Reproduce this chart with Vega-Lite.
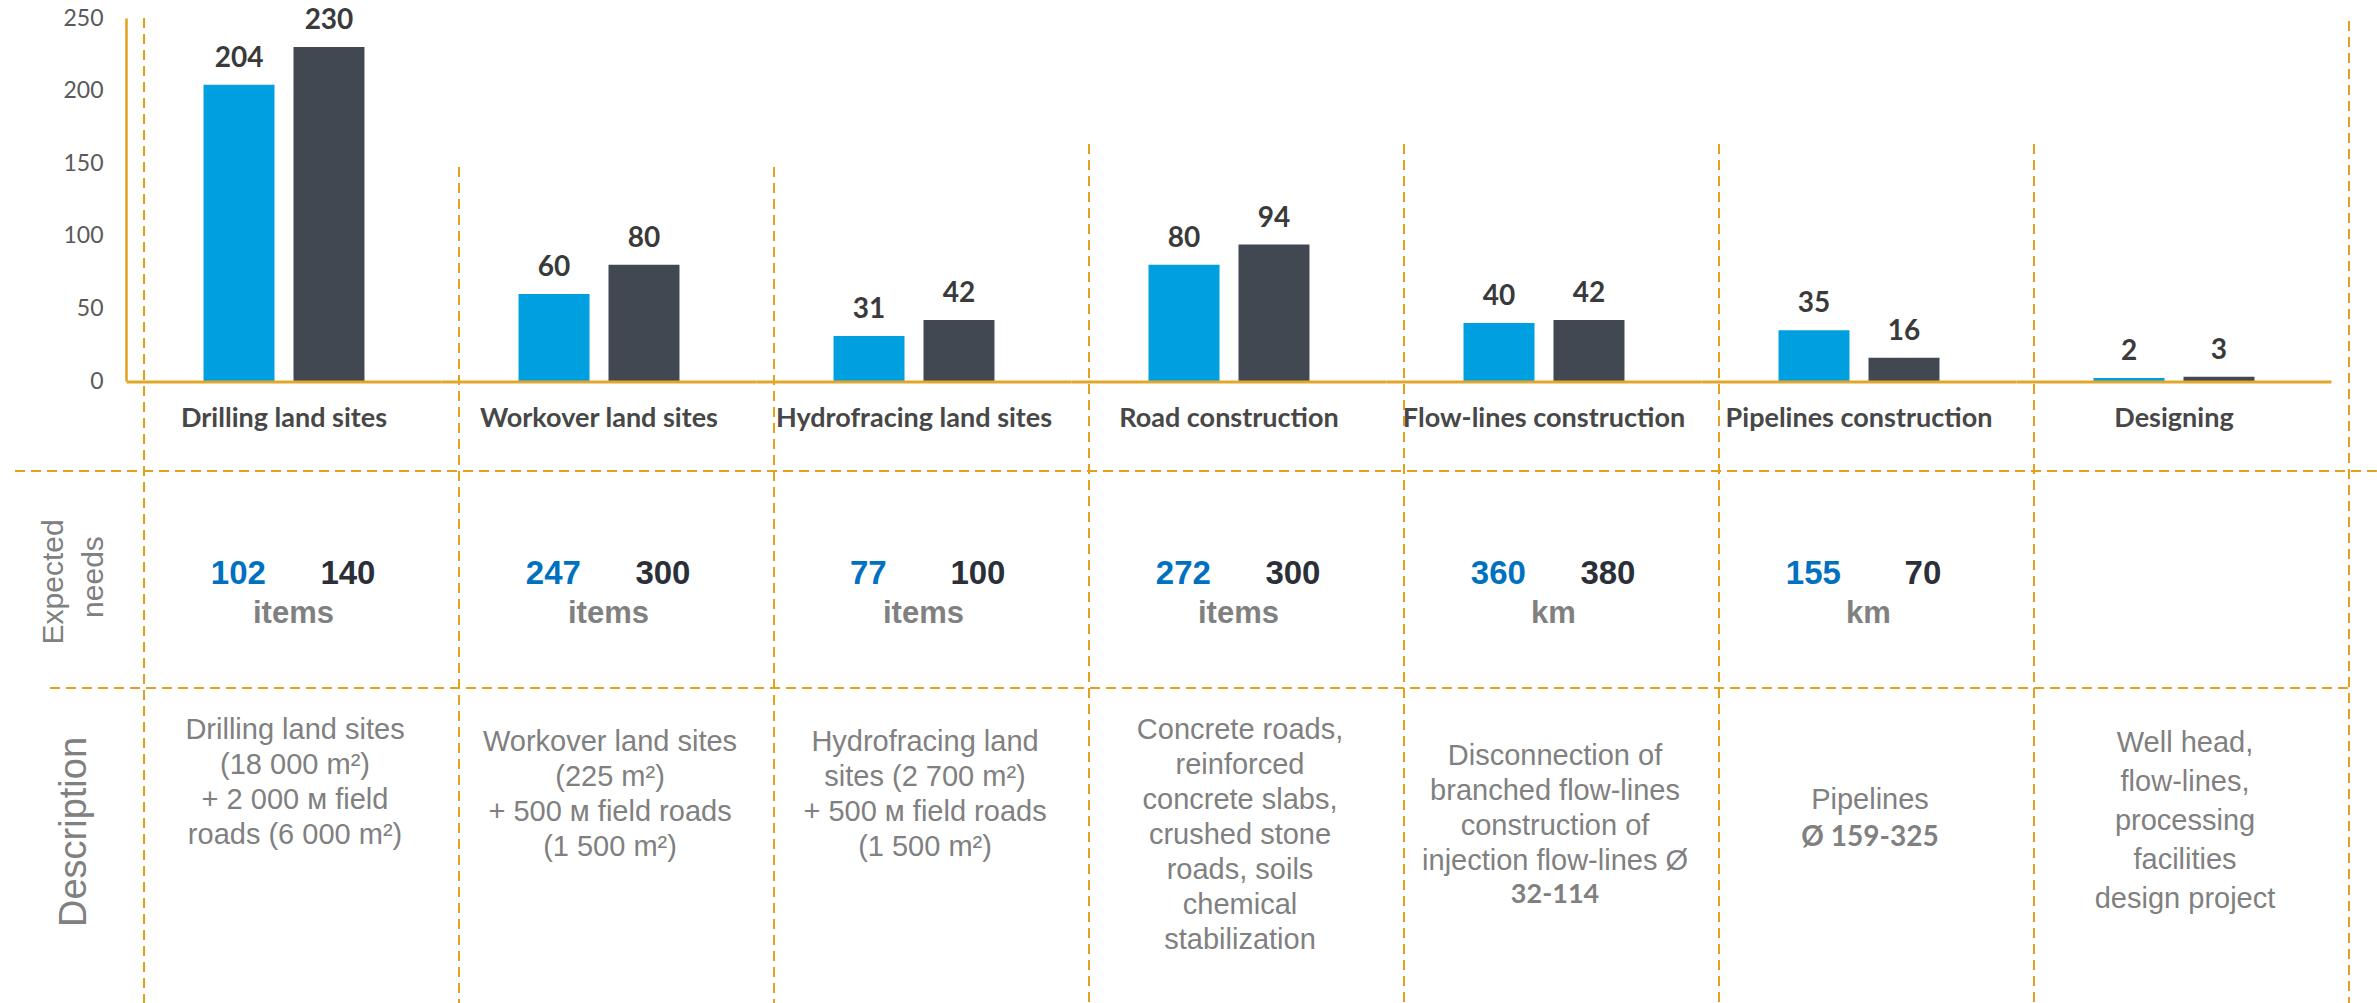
{
  "$schema": "https://vega.github.io/schema/vega-lite/v6.json",
  "width": 2251,
  "height": 1003,
  "padding": {"left": 126, "right": 0, "top": 0, "bottom": 0},
  "autosize": {"type": "none"},
  "background": "white",
  "config": {"view": {"stroke": null}},
  "datasets": {
    "bars": [
      {"category": "Drilling land sites", "series": "Series 1", "value": 204},
      {"category": "Drilling land sites", "series": "Series 2", "value": 230},
      {"category": "Workover land sites", "series": "Series 1", "value": 60},
      {"category": "Workover land sites", "series": "Series 2", "value": 80},
      {"category": "Hydrofracing land sites", "series": "Series 1", "value": 31},
      {"category": "Hydrofracing land sites", "series": "Series 2", "value": 42},
      {"category": "Road construction", "series": "Series 1", "value": 80},
      {"category": "Road construction", "series": "Series 2", "value": 94},
      {"category": "Flow-lines construction", "series": "Series 1", "value": 40},
      {"category": "Flow-lines construction", "series": "Series 2", "value": 42},
      {"category": "Pipelines construction", "series": "Series 1", "value": 35},
      {"category": "Pipelines construction", "series": "Series 2", "value": 16},
      {"category": "Designing", "series": "Series 1", "value": 2},
      {"category": "Designing", "series": "Series 2", "value": 3}
    ],
    "cells": [
      {"category": "Drilling land sites", "blue": "102", "dark": "140", "unit": "items",
       "desc": ["Drilling land sites", "(18 000 m²)", "+ 2 000 м field", "roads (6 000 m²)"], "descBold": null},
      {"category": "Workover land sites", "blue": "247", "dark": "300", "unit": "items",
       "desc": ["Workover land sites", "(225 m²)", "+ 500 м field roads", "(1 500 m²)"], "descBold": null},
      {"category": "Hydrofracing land sites", "blue": "77", "dark": "100", "unit": "items",
       "desc": ["Hydrofracing land", "sites (2 700 m²)", "+ 500 м field roads", "(1 500 m²)"], "descBold": null},
      {"category": "Road construction", "blue": "272", "dark": "300", "unit": "items",
       "desc": ["Concrete roads,", "reinforced", "concrete slabs,", "crushed stone", "roads, soils", "chemical", "stabilization"], "descBold": null},
      {"category": "Flow-lines construction", "blue": "360", "dark": "380", "unit": "km",
       "desc": ["Disconnection of", "branched flow-lines", "construction of", "injection flow-lines Ø"], "descBold": "32-114"},
      {"category": "Pipelines construction", "blue": "155", "dark": "70", "unit": "km",
       "desc": ["Pipelines"], "descBold": "Ø 159-325"},
      {"category": "Designing", "blue": null, "dark": null, "unit": null,
       "desc": ["Well head,", "flow-lines,", "processing", "facilities", "design project"], "descBold": null}
    ]
  },
  "layer": [
    {
      "data": {"name": "bars"},
      "mark": {"type": "bar"},
      "encoding": {
        "x": {"field": "category", "type": "nominal", "title": null, "axis": null,
              "scale": {"domain": ["Drilling land sites", "Workover land sites", "Hydrofracing land sites", "Road construction", "Flow-lines construction", "Pipelines construction", "Designing"], "range": [0.5, 2205.5], "paddingInner": 0, "paddingOuter": 0}},
        "xOffset": {"field": "series", "type": "nominal", "scale": {"domain": ["Series 1", "Series 2"], "paddingInner": 0.211, "paddingOuter": 0.856}},
        "y": {"field": "value", "type": "quantitative", "title": null,
              "scale": {"domain": [0, 250], "range": [381, 18], "nice": false, "zero": false},
              "axis": {"values": [0, 50, 100, 150, 200, 250], "domain": true, "domainColor": "#E3A11B", "domainWidth": 2.5, "ticks": false, "grid": false, "labels": true, "labelFont": "Lato", "labelFontSize": 23, "labelColor": "#595959", "labelPadding": 23, "title": null}},
        "color": {"field": "series", "type": "nominal", "legend": null, "scale": {"domain": ["Series 1", "Series 2"], "range": ["#009FDF", "#414852"]}}
      }
    },
    {
      "data": {"name": "cells"},
      "transform": [{"filter": {"field": "category", "oneOf": ["Drilling land sites"]}}],
      "mark": {"type": "rule", "color": "#E3A11B", "strokeWidth": 2, "strokeDash": [10, 6]},
      "encoding": {
        "x": {"field": "category", "type": "nominal", "bandPosition": 0.0556, "axis": null,
              "scale": {"domain": ["Drilling land sites", "Workover land sites", "Hydrofracing land sites", "Road construction", "Flow-lines construction", "Pipelines construction", "Designing"], "range": [0.5, 2205.5], "paddingInner": 0, "paddingOuter": 0}},
        "y": {"datum": 250, "type": "quantitative", "title": null, "scale": {"domain": [0, 250], "range": [381, 18], "nice": false, "zero": false}},
        "y2": {"datum": -430}
      }
    },
    {
      "data": {"name": "cells"},
      "transform": [{"filter": {"field": "category", "oneOf": ["Workover land sites", "Hydrofracing land sites"]}}],
      "mark": {"type": "rule", "color": "#E3A11B", "strokeWidth": 2, "strokeDash": [10, 6]},
      "encoding": {
        "x": {"field": "category", "type": "nominal", "bandPosition": 0.0556, "axis": null,
              "scale": {"domain": ["Drilling land sites", "Workover land sites", "Hydrofracing land sites", "Road construction", "Flow-lines construction", "Pipelines construction", "Designing"], "range": [0.5, 2205.5], "paddingInner": 0, "paddingOuter": 0}},
        "y": {"datum": 147.4, "type": "quantitative", "title": null, "scale": {"domain": [0, 250], "range": [381, 18], "nice": false, "zero": false}},
        "y2": {"datum": -430}
      }
    },
    {
      "data": {"name": "cells"},
      "transform": [{"filter": {"field": "category", "oneOf": ["Road construction", "Flow-lines construction", "Pipelines construction", "Designing"]}}],
      "mark": {"type": "rule", "color": "#E3A11B", "strokeWidth": 2, "strokeDash": [10, 6]},
      "encoding": {
        "x": {"field": "category", "type": "nominal", "bandPosition": 0.0556, "axis": null,
              "scale": {"domain": ["Drilling land sites", "Workover land sites", "Hydrofracing land sites", "Road construction", "Flow-lines construction", "Pipelines construction", "Designing"], "range": [0.5, 2205.5], "paddingInner": 0, "paddingOuter": 0}},
        "y": {"datum": 163.2, "type": "quantitative", "title": null, "scale": {"domain": [0, 250], "range": [381, 18], "nice": false, "zero": false}},
        "y2": {"datum": -430}
      }
    },
    {
      "data": {"name": "cells"},
      "transform": [{"filter": {"field": "category", "oneOf": ["Designing"]}}],
      "mark": {"type": "rule", "color": "#E3A11B", "strokeWidth": 2, "strokeDash": [10, 6]},
      "encoding": {
        "x": {"field": "category", "type": "nominal", "bandPosition": 1.0556, "axis": null,
              "scale": {"domain": ["Drilling land sites", "Workover land sites", "Hydrofracing land sites", "Road construction", "Flow-lines construction", "Pipelines construction", "Designing"], "range": [0.5, 2205.5], "paddingInner": 0, "paddingOuter": 0}},
        "y": {"datum": 248, "type": "quantitative", "title": null, "scale": {"domain": [0, 250], "range": [381, 18], "nice": false, "zero": false}},
        "y2": {"datum": -430}
      }
    },
    {
      "data": {"values": [{"line": "needs top"}]},
      "mark": {"type": "rule", "color": "#E3A11B", "strokeWidth": 2, "strokeDash": [10, 6]},
      "encoding": {
        "x": {"datum": "Drilling land sites", "type": "nominal", "bandPosition": -0.354, "axis": null,
              "scale": {"domain": ["Drilling land sites", "Workover land sites", "Hydrofracing land sites", "Road construction", "Flow-lines construction", "Pipelines construction", "Designing"], "range": [0.5, 2205.5], "paddingInner": 0, "paddingOuter": 0}},
        "x2": {"datum": "Designing", "bandPosition": 1.144},
        "y": {"datum": -62, "type": "quantitative", "title": null, "scale": {"domain": [0, 250], "range": [381, 18], "nice": false, "zero": false}}
      }
    },
    {
      "data": {"values": [{"line": "description top"}]},
      "mark": {"type": "rule", "color": "#E3A11B", "strokeWidth": 2, "strokeDash": [10, 6]},
      "encoding": {
        "x": {"datum": "Drilling land sites", "type": "nominal", "bandPosition": -0.243, "axis": null,
              "scale": {"domain": ["Drilling land sites", "Workover land sites", "Hydrofracing land sites", "Road construction", "Flow-lines construction", "Pipelines construction", "Designing"], "range": [0.5, 2205.5], "paddingInner": 0, "paddingOuter": 0}},
        "x2": {"datum": "Designing", "bandPosition": 1.0556},
        "y": {"datum": -211.4, "type": "quantitative", "title": null, "scale": {"domain": [0, 250], "range": [381, 18], "nice": false, "zero": false}}
      }
    },
    {
      "data": {"name": "cells"},
      "mark": {"type": "rect", "color": "#E2A62A"},
      "encoding": {
        "x": {"field": "category", "type": "nominal", "axis": null,
              "scale": {"domain": ["Drilling land sites", "Workover land sites", "Hydrofracing land sites", "Road construction", "Flow-lines construction", "Pipelines construction", "Designing"], "range": [0.5, 2205.5], "paddingInner": 0, "paddingOuter": 0}},
        "y": {"datum": 0.3, "type": "quantitative", "title": null, "scale": {"domain": [0, 250], "range": [381, 18], "nice": false, "zero": false}},
        "y2": {"datum": -1.8}
      }
    },
    {
      "data": {"name": "bars"},
      "mark": {"type": "text", "font": "Lato", "fontWeight": "bold", "fontSize": 28, "color": "#3A3A3A", "baseline": "alphabetic", "dy": -18},
      "encoding": {
        "x": {"field": "category", "type": "nominal", "axis": null,
              "scale": {"domain": ["Drilling land sites", "Workover land sites", "Hydrofracing land sites", "Road construction", "Flow-lines construction", "Pipelines construction", "Designing"], "range": [0.5, 2205.5], "paddingInner": 0, "paddingOuter": 0}},
        "xOffset": {"field": "series", "type": "nominal", "scale": {"domain": ["Series 1", "Series 2"], "paddingInner": 0.211, "paddingOuter": 0.856}},
        "y": {"field": "value", "type": "quantitative", "title": null, "scale": {"domain": [0, 250], "range": [381, 18], "nice": false, "zero": false}},
        "text": {"field": "value", "type": "quantitative"}
      }
    },
    {
      "data": {"name": "cells"},
      "mark": {"type": "text", "font": "Lato", "fontWeight": "bold", "fontSize": 27, "color": "#474747", "baseline": "middle"},
      "encoding": {
        "x": {"field": "category", "type": "nominal", "axis": null,
              "scale": {"domain": ["Drilling land sites", "Workover land sites", "Hydrofracing land sites", "Road construction", "Flow-lines construction", "Pipelines construction", "Designing"], "range": [0.5, 2205.5], "paddingInner": 0, "paddingOuter": 0}},
        "y": {"datum": -26.2, "type": "quantitative", "title": null, "scale": {"domain": [0, 250], "range": [381, 18], "nice": false, "zero": false}},
        "text": {"field": "category", "type": "nominal"}
      }
    },
    {
      "data": {"name": "cells"},
      "transform": [{"filter": "isValid(datum.blue)"}],
      "mark": {"type": "text", "font": "Liberation Sans", "fontWeight": "bold", "fontSize": 33, "color": "#0070C0", "baseline": "middle"},
      "encoding": {
        "x": {"field": "category", "type": "nominal", "bandPosition": 0.355, "axis": null,
              "scale": {"domain": ["Drilling land sites", "Workover land sites", "Hydrofracing land sites", "Road construction", "Flow-lines construction", "Pipelines construction", "Designing"], "range": [0.5, 2205.5], "paddingInner": 0, "paddingOuter": 0}},
        "y": {"datum": -132.9, "type": "quantitative", "title": null, "scale": {"domain": [0, 250], "range": [381, 18], "nice": false, "zero": false}},
        "text": {"field": "blue", "type": "nominal"}
      }
    },
    {
      "data": {"name": "cells"},
      "transform": [{"filter": "isValid(datum.dark)"}],
      "mark": {"type": "text", "font": "Liberation Sans", "fontWeight": "bold", "fontSize": 33, "color": "#2A2F38", "baseline": "middle"},
      "encoding": {
        "x": {"field": "category", "type": "nominal", "bandPosition": 0.703, "axis": null,
              "scale": {"domain": ["Drilling land sites", "Workover land sites", "Hydrofracing land sites", "Road construction", "Flow-lines construction", "Pipelines construction", "Designing"], "range": [0.5, 2205.5], "paddingInner": 0, "paddingOuter": 0}},
        "y": {"datum": -132.9, "type": "quantitative", "title": null, "scale": {"domain": [0, 250], "range": [381, 18], "nice": false, "zero": false}},
        "text": {"field": "dark", "type": "nominal"}
      }
    },
    {
      "data": {"name": "cells"},
      "transform": [{"filter": "isValid(datum.unit)"}],
      "mark": {"type": "text", "font": "Liberation Sans", "fontWeight": "bold", "fontSize": 31, "color": "#808080", "baseline": "middle"},
      "encoding": {
        "x": {"field": "category", "type": "nominal", "bandPosition": 0.53, "axis": null,
              "scale": {"domain": ["Drilling land sites", "Workover land sites", "Hydrofracing land sites", "Road construction", "Flow-lines construction", "Pipelines construction", "Designing"], "range": [0.5, 2205.5], "paddingInner": 0, "paddingOuter": 0}},
        "y": {"datum": -160.5, "type": "quantitative", "title": null, "scale": {"domain": [0, 250], "range": [381, 18], "nice": false, "zero": false}},
        "text": {"field": "unit", "type": "nominal"}
      }
    },
    {
      "data": {"name": "cells"},
      "transform": [{"filter": {"field": "category", "oneOf": ["Drilling land sites", "Road construction"]}}],
      "mark": {"type": "text", "font": "Liberation Sans", "fontSize": 29, "color": "#808080", "baseline": "top", "lineHeight": 35},
      "encoding": {
        "x": {"field": "category", "type": "nominal", "bandPosition": 0.535, "axis": null,
              "scale": {"domain": ["Drilling land sites", "Workover land sites", "Hydrofracing land sites", "Road construction", "Flow-lines construction", "Pipelines construction", "Designing"], "range": [0.5, 2205.5], "paddingInner": 0, "paddingOuter": 0}},
        "y": {"datum": -230.4, "type": "quantitative", "title": null, "scale": {"domain": [0, 250], "range": [381, 18], "nice": false, "zero": false}},
        "text": {"field": "desc", "type": "nominal"}
      }
    },
    {
      "data": {"name": "cells"},
      "transform": [{"filter": {"field": "category", "oneOf": ["Workover land sites", "Hydrofracing land sites"]}}],
      "mark": {"type": "text", "font": "Liberation Sans", "fontSize": 29, "color": "#808080", "baseline": "top", "lineHeight": 35},
      "encoding": {
        "x": {"field": "category", "type": "nominal", "bandPosition": 0.535, "axis": null,
              "scale": {"domain": ["Drilling land sites", "Workover land sites", "Hydrofracing land sites", "Road construction", "Flow-lines construction", "Pipelines construction", "Designing"], "range": [0.5, 2205.5], "paddingInner": 0, "paddingOuter": 0}},
        "y": {"datum": -239.3, "type": "quantitative", "title": null, "scale": {"domain": [0, 250], "range": [381, 18], "nice": false, "zero": false}},
        "text": {"field": "desc", "type": "nominal"}
      }
    },
    {
      "data": {"name": "cells"},
      "transform": [{"filter": {"field": "category", "oneOf": ["Designing"]}}],
      "mark": {"type": "text", "font": "Liberation Sans", "fontSize": 29, "color": "#808080", "baseline": "top", "lineHeight": 39},
      "encoding": {
        "x": {"field": "category", "type": "nominal", "bandPosition": 0.535, "axis": null,
              "scale": {"domain": ["Drilling land sites", "Workover land sites", "Hydrofracing land sites", "Road construction", "Flow-lines construction", "Pipelines construction", "Designing"], "range": [0.5, 2205.5], "paddingInner": 0, "paddingOuter": 0}},
        "y": {"datum": -240.0, "type": "quantitative", "title": null, "scale": {"domain": [0, 250], "range": [381, 18], "nice": false, "zero": false}},
        "text": {"field": "desc", "type": "nominal"}
      }
    },
    {
      "data": {"name": "cells"},
      "transform": [{"filter": {"field": "category", "oneOf": ["Flow-lines construction"]}}],
      "mark": {"type": "text", "font": "Liberation Sans", "fontSize": 29, "color": "#808080", "baseline": "top", "lineHeight": 35},
      "encoding": {
        "x": {"field": "category", "type": "nominal", "bandPosition": 0.535, "axis": null,
              "scale": {"domain": ["Drilling land sites", "Workover land sites", "Hydrofracing land sites", "Road construction", "Flow-lines construction", "Pipelines construction", "Designing"], "range": [0.5, 2205.5], "paddingInner": 0, "paddingOuter": 0}},
        "y": {"datum": -248.3, "type": "quantitative", "title": null, "scale": {"domain": [0, 250], "range": [381, 18], "nice": false, "zero": false}},
        "text": {"field": "desc", "type": "nominal"}
      }
    },
    {
      "data": {"name": "cells"},
      "transform": [{"filter": "datum.category === 'Pipelines construction'"}],
      "mark": {"type": "text", "font": "Liberation Sans", "fontSize": 29, "color": "#808080", "baseline": "top"},
      "encoding": {
        "x": {"field": "category", "type": "nominal", "bandPosition": 0.535, "axis": null,
              "scale": {"domain": ["Drilling land sites", "Workover land sites", "Hydrofracing land sites", "Road construction", "Flow-lines construction", "Pipelines construction", "Designing"], "range": [0.5, 2205.5], "paddingInner": 0, "paddingOuter": 0}},
        "y": {"datum": -278.6, "type": "quantitative", "title": null, "scale": {"domain": [0, 250], "range": [381, 18], "nice": false, "zero": false}},
        "text": {"field": "desc", "type": "nominal"}
      }
    },
    {
      "data": {"name": "cells"},
      "transform": [{"filter": "datum.category === 'Flow-lines construction'"}],
      "mark": {"type": "text", "font": "Lato", "fontWeight": "bold", "fontSize": 27, "color": "#808080", "baseline": "top"},
      "encoding": {
        "x": {"field": "category", "type": "nominal", "bandPosition": 0.535, "axis": null,
              "scale": {"domain": ["Drilling land sites", "Workover land sites", "Hydrofracing land sites", "Road construction", "Flow-lines construction", "Pipelines construction", "Designing"], "range": [0.5, 2205.5], "paddingInner": 0, "paddingOuter": 0}},
        "y": {"datum": -345.2, "type": "quantitative", "title": null, "scale": {"domain": [0, 250], "range": [381, 18], "nice": false, "zero": false}},
        "text": {"field": "descBold", "type": "nominal"}
      }
    },
    {
      "data": {"name": "cells"},
      "transform": [{"filter": "datum.category === 'Pipelines construction'"}],
      "mark": {"type": "text", "font": "Lato", "fontWeight": "bold", "fontSize": 28, "color": "#808080", "baseline": "top"},
      "encoding": {
        "x": {"field": "category", "type": "nominal", "bandPosition": 0.535, "axis": null,
              "scale": {"domain": ["Drilling land sites", "Workover land sites", "Hydrofracing land sites", "Road construction", "Flow-lines construction", "Pipelines construction", "Designing"], "range": [0.5, 2205.5], "paddingInner": 0, "paddingOuter": 0}},
        "y": {"datum": -304.8, "type": "quantitative", "title": null, "scale": {"domain": [0, 250], "range": [381, 18], "nice": false, "zero": false}},
        "text": {"field": "descBold", "type": "nominal"}
      }
    },
    {
      "data": {"values": [{"header": "Expected"}]},
      "mark": {"type": "text", "font": "Liberation Sans", "fontSize": 30, "color": "#808080", "angle": 270, "align": "center", "baseline": "middle"},
      "encoding": {
        "x": {"datum": "Drilling land sites", "type": "nominal", "bandPosition": -0.2317, "axis": null,
              "scale": {"domain": ["Drilling land sites", "Workover land sites", "Hydrofracing land sites", "Road construction", "Flow-lines construction", "Pipelines construction", "Designing"], "range": [0.5, 2205.5], "paddingInner": 0, "paddingOuter": 0}},
        "y": {"datum": -138.4, "type": "quantitative", "title": null, "scale": {"domain": [0, 250], "range": [381, 18], "nice": false, "zero": false}},
        "text": {"field": "header", "type": "nominal"}
      }
    },
    {
      "data": {"values": [{"header": "needs"}]},
      "mark": {"type": "text", "font": "Liberation Sans", "fontSize": 30, "color": "#808080", "angle": 270, "align": "center", "baseline": "middle"},
      "encoding": {
        "x": {"datum": "Drilling land sites", "type": "nominal", "bandPosition": -0.1032, "axis": null,
              "scale": {"domain": ["Drilling land sites", "Workover land sites", "Hydrofracing land sites", "Road construction", "Flow-lines construction", "Pipelines construction", "Designing"], "range": [0.5, 2205.5], "paddingInner": 0, "paddingOuter": 0}},
        "y": {"datum": -135, "type": "quantitative", "title": null, "scale": {"domain": [0, 250], "range": [381, 18], "nice": false, "zero": false}},
        "text": {"field": "header", "type": "nominal"}
      }
    },
    {
      "data": {"values": [{"header": "Description"}]},
      "mark": {"type": "text", "font": "Liberation Sans", "fontSize": 38, "color": "#808080", "angle": 270, "align": "center", "baseline": "middle"},
      "encoding": {
        "x": {"datum": "Drilling land sites", "type": "nominal", "bandPosition": -0.1635, "axis": null,
              "scale": {"domain": ["Drilling land sites", "Workover land sites", "Hydrofracing land sites", "Road construction", "Flow-lines construction", "Pipelines construction", "Designing"], "range": [0.5, 2205.5], "paddingInner": 0, "paddingOuter": 0}},
        "y": {"datum": -310.6, "type": "quantitative", "title": null, "scale": {"domain": [0, 250], "range": [381, 18], "nice": false, "zero": false}},
        "text": {"field": "header", "type": "nominal"}
      }
    }
  ]
}
